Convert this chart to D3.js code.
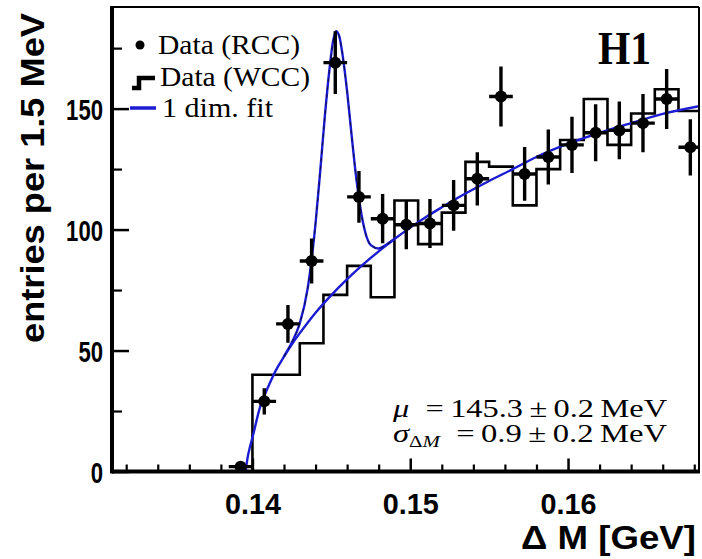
<!DOCTYPE html>
<html><head><meta charset="utf-8">
<script src="https://cdn.jsdelivr.net/npm/d3@7"></script>
<style>body{margin:0;background:#fff}svg{display:block}</style>
</head><body><svg id="c" width="702" height="559"></svg>
<script>
// ---- data ----
const rccCenters = [0.13925,0.14075,0.14225,0.14375,0.14525,0.14675,0.14825,0.14975,0.15125,0.15275,
                    0.15425,0.15575,0.15725,0.15875,0.16025,0.16175,0.16325,0.16475,0.16625,0.16775];
const rccCounts  = [2,29,61,87,169,113.5,104.5,102,102.5,110,121,155,123,130,135,140,141,144,154,134];
const rccErrors  = [1.4,5.4,7.8,9.3,13,10.7,10.2,10.1,10.1,10.5,11,12.4,11.1,11.4,11.6,11.8,11.9,12,12.4,11.6];
const halfBin = 0.00075;

const wccEdges  = [0.14,0.1415,0.143,0.1445,0.146,0.1475,0.149,0.1505,0.152,0.1535,
                   0.155,0.1565,0.158,0.1595,0.161,0.1625,0.164,0.1655,0.167,0.1685];
const wccCounts = [40,40,53,73,85,72,112,94,107,128,126,110,125,137,154,135,148,158,149];

const bgX = [0.13957,0.1397,0.1398,0.14,0.1405,0.141,0.1415,0.142,0.1425,0.143,0.1435,0.144,0.145,0.146,
             0.147,0.148,0.149,0.15,0.151,0.152,0.1535,0.155,0.1565,0.158,0.16,0.162,0.164,0.166,0.1683];
const bgY = [0,6,9,14,27,35,42,47.5,52.6,57.2,61.5,65.6,72.9,79.5,85.5,91,96.1,100.8,105.2,109.2,114.9,
             120.1,125,130,135.5,140,144,147.8,151];
const fitX = [0.142,0.1425,0.143,0.1435,0.144,0.1443,0.1446,0.1449,0.1451,0.1453,0.1455,0.1457,0.146,
              0.1463,0.1466,0.147,0.1475,0.148,0.1485,0.149];
const fitY = [47.6,53.4,61.2,75.7,102.6,124.5,147.7,167.3,177.5,182,180,172.7,157.1,138,120.2,103.1,
              93.6,92.2,93.8,96.1];

const yTicks = [0,50,100,150];
const yMinor = [25,75,125,175];
const xTicks = [0.14,0.15,0.16];
const xMinor = [0.132,0.134,0.136,0.138,0.142,0.144,0.146,0.148,0.152,0.154,0.156,0.158,0.162,0.164,0.166,0.168];

// ---- layout ----
const L = 112, R = 699, T = 7, B = 471.5;
const x = d3.scaleLinear().domain([0.1311, 0.1683]).range([L, R]);
const y = d3.scaleLinear().domain([0, 192]).range([B, T]);
const svg = d3.select('#c');
const BLUE = '#1c1cd2';

svg.append('defs').append('clipPath').attr('id','pc')
  .append('rect').attr('x',L).attr('y',T).attr('width',R-L).attr('height',B-T);
const plot = svg.append('g').attr('clip-path','url(#pc)');

// WCC histogram
const histPts = [{x:wccEdges[0], y:0}].concat(wccCounts.map((c,i)=>({x:wccEdges[i], y:c})))
  .concat([{x:wccEdges[wccEdges.length-1], y:wccCounts[wccCounts.length-1]}]);
plot.append('path')
  .attr('d', d3.line().x(d=>x(d.x)).y(d=>y(d.y)).curve(d3.curveStepAfter)(histPts))
  .attr('fill','none').attr('stroke','#000').attr('stroke-width',2.6);

// fit curves
const lineGen = d3.line().x(d=>x(d[0])).y(d=>y(d[1])).curve(d3.curveMonotoneX);
plot.append('path').attr('d', lineGen(bgX.map((v,i)=>[v,bgY[i]])))
  .attr('fill','none').attr('stroke',BLUE).attr('stroke-width',2.4);
plot.append('path').attr('d', lineGen(fitX.map((v,i)=>[v,fitY[i]])))
  .attr('fill','none').attr('stroke',BLUE).attr('stroke-width',2.4);
plot.append('path').attr('d', lineGen(fitX.map((v,i)=>[v,fitY[i]])))
  .attr('fill','none').attr('stroke','#101060').attr('stroke-width',1.2).attr('stroke-dasharray','4,4');

// RCC points
const pts = plot.append('g');
rccCenters.forEach((c,i)=>{
  const v = rccCounts[i], e = rccErrors[i];
  pts.append('line').attr('x1',x(c)).attr('x2',x(c)).attr('y1',y(v-e)).attr('y2',y(v+e))
    .attr('stroke','#000').attr('stroke-width',3.4);
  pts.append('line').attr('x1',x(c-halfBin)).attr('x2',x(c+halfBin)).attr('y1',y(v)).attr('y2',y(v))
    .attr('stroke','#000').attr('stroke-width',3.4);
  pts.append('circle').attr('cx',x(c)).attr('cy',y(v)).attr('r',6).attr('fill','#000');
});

// frame
svg.append('line').attr('x1',L).attr('x2',R).attr('y1',T).attr('y2',T).attr('stroke','#000').attr('stroke-width',2);
svg.append('line').attr('x1',R).attr('x2',R).attr('y1',T).attr('y2',B).attr('stroke','#000').attr('stroke-width',2);

// axes
const xAxis = d3.axisBottom(x).tickValues(xTicks).tickSize(-13).tickFormat(d3.format('.2f'));
const gx = svg.append('g').attr('transform',`translate(0,${B})`).call(xAxis);
gx.select('.domain').remove();
gx.selectAll('.tick line').attr('stroke','#000').attr('stroke-width',2.5);
gx.selectAll('.tick text').attr('font-family','Liberation Sans, Arial, sans-serif').attr('font-weight','bold')
  .attr('font-size',30).attr('fill','#000').attr('dy',null).attr('y',42)
  .attr('textLength',56).attr('lengthAdjust','spacingAndGlyphs');
const gxm = svg.append('g').attr('transform',`translate(0,${B})`)
  .call(d3.axisBottom(x).tickValues(xMinor).tickSize(-7).tickFormat(''));
gxm.select('.domain').remove();
gxm.selectAll('.tick line').attr('stroke','#000').attr('stroke-width',2.2);

const yAxis = d3.axisLeft(y).tickValues(yTicks).tickSize(-17).tickPadding(10);
const gy = svg.append('g').attr('transform',`translate(${L},0)`).call(yAxis);
gy.select('.domain').remove();
gy.selectAll('.tick line').attr('stroke','#000').attr('stroke-width',2.5);
gy.selectAll('.tick text').attr('font-family','Liberation Sans, Arial, sans-serif').attr('font-weight','bold')
  .attr('font-size',30).attr('fill','#000').attr('x',-9).attr('dy','0.36em')
  .each(function(d){ d3.select(this).attr('textLength', String(d).length*12.3).attr('lengthAdjust','spacingAndGlyphs'); });
const gym = svg.append('g').attr('transform',`translate(${L},0)`)
  .call(d3.axisLeft(y).tickValues(yMinor).tickSize(-10).tickFormat(''));
gym.select('.domain').remove();
gym.selectAll('.tick line').attr('stroke','#000').attr('stroke-width',2.2);

// axis lines (thick)
svg.append('line').attr('x1',L).attr('x2',R+1).attr('y1',B).attr('y2',B).attr('stroke','#000').attr('stroke-width',4);
svg.append('line').attr('x1',L).attr('x2',L).attr('y1',T-1).attr('y2',B+2).attr('stroke','#000').attr('stroke-width',4);

// axis titles
svg.append('text').attr('transform','translate(44,178) rotate(-90)').attr('text-anchor','middle')
  .attr('font-family','Liberation Sans, Arial, sans-serif').attr('font-weight','bold').attr('font-size',33)
  .attr('textLength',330).attr('lengthAdjust','spacingAndGlyphs').text('entries per 1.5 MeV');
svg.append('text').attr('x',696).attr('y',549).attr('text-anchor','end')
  .attr('font-family','Liberation Sans, Arial, sans-serif').attr('font-weight','bold').attr('font-size',34)
  .attr('textLength',175).attr('lengthAdjust','spacingAndGlyphs')
  .text('Δ M [GeV]');

// legend
const serif = 'Liberation Serif, Times New Roman, serif';
svg.append('circle').attr('cx',140).attr('cy',45).attr('r',4.5).attr('fill','#000');
svg.append('text').attr('x',158).attr('y',54).attr('font-family',serif).attr('font-size',27)
  .attr('textLength',142).attr('lengthAdjust','spacingAndGlyphs').text('Data (RCC)');
svg.append('path').attr('d','M132,88 H139 V78 H155').attr('fill','none').attr('stroke','#000').attr('stroke-width',4.5);
svg.append('text').attr('x',160).attr('y',86).attr('font-family',serif).attr('font-size',27)
  .attr('textLength',150).attr('lengthAdjust','spacingAndGlyphs').text('Data (WCC)');
svg.append('line').attr('x1',130).attr('x2',156).attr('y1',108).attr('y2',108).attr('stroke',BLUE).attr('stroke-width',3.5);
svg.append('text').attr('x',162).attr('y',117).attr('font-family',serif).attr('font-size',27)
  .attr('textLength',111).attr('lengthAdjust','spacingAndGlyphs').text('1 dim. fit');

// H1 label
svg.append('text').attr('x',598).attr('y',64).attr('font-family',serif).attr('font-weight','bold').attr('font-size',46)
  .attr('textLength',53).attr('lengthAdjust','spacingAndGlyphs').text('H1');

// fit results
const t1 = svg.append('text').attr('x',393).attr('y',417).attr('font-family',serif).attr('font-size',25)
  .attr('textLength',274).attr('lengthAdjust','spacingAndGlyphs');
t1.append('tspan').attr('font-style','italic').text('μ');
t1.append('tspan').text('\u2002=\u2009145.3\u2009±\u20090.2\u2009MeV');
const t2 = svg.append('text').attr('x',393).attr('y',442).attr('font-family',serif).attr('font-size',25)
  .attr('textLength',274).attr('lengthAdjust','spacingAndGlyphs');
t2.append('tspan').attr('font-style','italic').text('σ');
t2.append('tspan').attr('font-size',16).attr('dy',5).text('Δ');
t2.append('tspan').attr('font-size',16).attr('font-style','italic').text('M');
t2.append('tspan').attr('dy',-5).text('\u2002=\u20090.9\u2009±\u20090.2\u2009MeV');
</script></body></html>
